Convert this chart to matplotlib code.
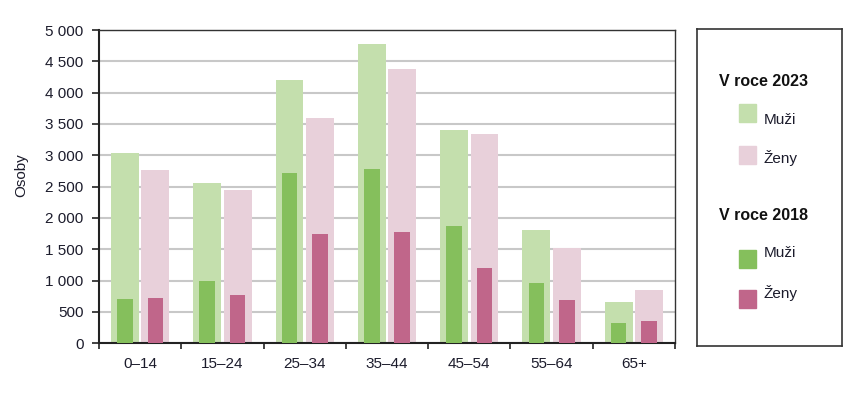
import numpy as np
import matplotlib.pyplot as plt
from matplotlib.patches import Rectangle
from matplotlib.ticker import FuncFormatter

plt.rcParams['font.family'] = ['Liberation Sans', 'DejaVu Sans']

categories = ['0–14', '15–24', '25–34', '35–44', '45–54', '55–64', '65+']
muzi_2023 = [3030, 2560, 4210, 4780, 3410, 1810, 665]
zeny_2023 = [2760, 2440, 3590, 4380, 3335, 1515, 845]
muzi_2018 = [700, 1000, 2720, 2785, 1865, 965, 325]
zeny_2018 = [728, 775, 1745, 1770, 1197, 695, 350]

c_m23 = '#c4dfad'
c_z23 = '#e8d0da'
c_m18 = '#85bf5c'
c_z18 = '#c0668a'
txt = '#1c1c2c'

fig = plt.figure(figsize=(8.67, 3.98), dpi=100)
ax = fig.add_axes([99/867, 1 - 343.3/398, 576/867, 313.3/398])

x = np.arange(len(categories))
off = 0.185
ax.bar(x - off, muzi_2023, width=0.34, color=c_m23, zorder=2)
ax.bar(x + off, zeny_2023, width=0.34, color=c_z23, zorder=2)
ax.bar(x - off, muzi_2018, width=0.19, color=c_m18, zorder=3)
ax.bar(x + off, zeny_2018, width=0.19, color=c_z18, zorder=3)

ax.set_xlim(-0.5, len(categories) - 0.5)
ax.set_ylim(0, 5000)
ax.set_yticks(np.arange(0, 5001, 500))
ax.yaxis.set_major_formatter(FuncFormatter(lambda v, p: f'{int(v):,}'.replace(',', ' ')))
ax.grid(axis='y', color='#c8c8c8', linewidth=1.5, zorder=0)
ax.set_axisbelow(True)

ax.set_xticks(np.arange(-0.5, len(categories), 1))
ax.set_xticklabels([])
ax.set_xticks(x, minor=True)
ax.set_xticklabels(categories, minor=True)
ax.tick_params(axis='x', which='major', length=4, width=1.2, color='#222222')
ax.tick_params(axis='x', which='minor', length=0, pad=10, labelsize=11, labelcolor=txt)
ax.tick_params(axis='y', length=5, width=1.2, color='#222222', pad=6, labelsize=11, labelcolor=txt)
ax.set_ylabel('Osoby', fontsize=11, color=txt)
ax.yaxis.set_label_coords(-0.123, 0.537)

for s in ['left', 'bottom']:
    ax.spines[s].set_linewidth(1.5)
    ax.spines[s].set_color('#222222')
for s in ['top', 'right']:
    ax.spines[s].set_linewidth(1.0)
    ax.spines[s].set_color('#333333')

# legend box
lax = fig.add_axes([697/867, 1 - 346/398, 145/867, 317/398])
lax.set_xlim(0, 145)
lax.set_ylim(317, 0)
lax.set_xticks([])
lax.set_yticks([])
for s in lax.spines.values():
    s.set_linewidth(1.2)
    s.set_color('#333333')

groups = [('V roce 2023', 53, [('Muži', c_m23, 84, 91), ('Ženy', c_z23, 126, 129)]),
          ('V roce 2018', 187, [('Muži', c_m18, 230, 224), ('Ženy', c_z18, 270, 264)])]
for title, ty, items in groups:
    lax.text(22, ty, title, fontsize=11.5, fontweight='bold', va='center', color='#111111')
    for lab, col, py, tyy in items:
        lax.add_patch(Rectangle((42, py - 9), 17, 18, color=col))
        lax.text(67, tyy, lab, fontsize=11, va='center', color=txt)

fig.savefig('out.png', dpi=100)
